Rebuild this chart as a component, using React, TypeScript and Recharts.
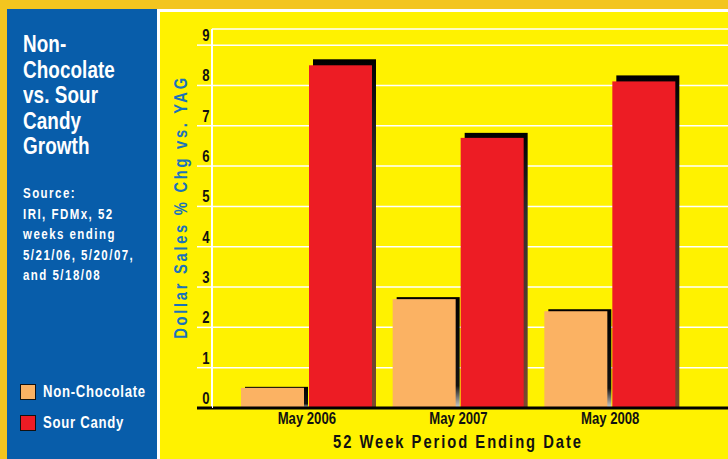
import React from "react";
import { BarChart, Bar, XAxis, YAxis, CartesianGrid, Legend, Label } from "recharts";

const categories = ["May 2006", "May 2007", "May 2008"];
const nonChocolate = [0.5, 2.7, 2.4];
const sourCandy = [8.5, 6.7, 8.1];
const yTicks = [0, 1, 2, 3, 4, 5, 6, 7, 8, 9];

const data = categories.map((name, i) => ({
  name,
  nonChocolate: nonChocolate[i],
  sourCandy: sourCandy[i],
}));

// no narrow font installed, so squeeze Liberation Sans horizontally
const FONT = '"Liberation Sans", Arial, sans-serif';
const SQ = 0.82;
const GOLD = "#F3C51F";
const BLUE = "#085DAA";
const YELLOW = "#FFF200";
const ORANGE = "#FBB263";
const RED = "#ED1C24";

const shadowStops: Record<string, [number, string][]> = {
  [ORANGE]: [
    [0, "#000"],
    [0.8, "#111"],
    [1, "#d4d4d4"],
  ],
  [RED]: [
    [0, "#000"],
    [0.3, "#2f2f2f"],
    [1, "#7b4a2e"],
  ],
};

function ShadowBar(props: any) {
  const { x, y, width, height, fill, index } = props;
  if (!height || height <= 0) return null;
  const off = Math.max(1, Math.round(height * 0.0175));
  const id = `sh-${fill.slice(1)}-${index}`;
  return (
    <g>
      <defs>
        <linearGradient id={id} x1="0" y1="0" x2="0" y2="1">
          {shadowStops[fill].map(([o, c]) => (
            <stop key={o} offset={o} stopColor={c} />
          ))}
        </linearGradient>
      </defs>
      <rect x={x + 4} y={y - off} width={width} height={height + off} fill={`url(#${id})`} />
      <rect x={x} y={y} width={width} height={height} fill={fill} />
    </g>
  );
}

function YTick(props: any) {
  const { x, y, payload } = props;
  const zero = payload.value === 0;
  return (
    <g>
      <line
        x1={x - 15}
        x2={x}
        y1={y}
        y2={y}
        stroke={zero ? "#000" : "#fff"}
        strokeWidth={zero ? 3 : 1.5}
      />
      <text
        transform={`translate(${x - 6} ${y - 4}) scale(${SQ} 1)`}
        textAnchor="middle"
        fontFamily={FONT}
        fontWeight="bold"
        fontSize={16}
        fill="#111"
      >
        {payload.value}
      </text>
    </g>
  );
}

function XTick(props: any) {
  const { x, y, payload } = props;
  return (
    <text
      transform={`translate(${x} ${y + 16}) scale(${SQ} 1)`}
      textAnchor="middle"
      fontFamily={FONT}
      fontWeight="bold"
      fontSize={16}
      fill="#111"
    >
      {payload.value}
    </text>
  );
}

function XTitle(props: any) {
  const { viewBox, value } = props;
  const cx = viewBox.x + viewBox.width / 2 - 12;
  return (
    <text
      transform={`translate(${cx} 448) scale(${SQ} 1)`}
      textAnchor="middle"
      fontFamily={FONT}
      fontWeight="bold"
      fontSize={18}
      letterSpacing={2.4}
      fill="#111"
    >
      {value}
    </text>
  );
}

function YTitle(props: any) {
  return (
    <text
      transform={`translate(187 207) rotate(-90) scale(${SQ} 1)`}
      textAnchor="middle"
      fontFamily={FONT}
      fontWeight="bold"
      fontSize={18}
      letterSpacing={3.3}
      fill="#1B73BA"
    >
      {props.value}
    </text>
  );
}

const squeeze: React.CSSProperties = {
  display: "inline-block",
  transform: `scaleX(${SQ})`,
  transformOrigin: "left top",
  whiteSpace: "nowrap",
};

function LegendBox(props: any) {
  const { payload } = props;
  return (
    <div style={{ fontFamily: FONT }}>
      {(payload || []).map((p: any) => (
        <div
          key={p.value}
          style={{ display: "flex", alignItems: "center", height: 31 }}
        >
          <span
            style={{
              width: 14,
              height: 14,
              background: p.color,
              border: "1.5px solid #111",
              marginRight: 7,
              flex: "none",
            }}
          />
          <span
            style={{
              ...squeeze,
              color: "#fff",
              fontWeight: "bold",
              fontSize: 16,
              letterSpacing: 0.9,
            }}
          >
            {p.value}
          </span>
        </div>
      ))}
    </div>
  );
}

export default function App() {
  return (
    <div
      style={{
        position: "absolute",
        left: 0,
        top: 0,
        width: 728,
        height: 459,
        background: GOLD,
        overflow: "hidden",
        fontFamily: FONT,
      }}
    >
      <div
        style={{
          position: "absolute",
          left: 7,
          top: 9,
          width: 150,
          height: 450,
          background: BLUE,
        }}
      />
      <div
        style={{
          position: "absolute",
          left: 157,
          top: 9,
          width: 571,
          height: 450,
          background: "#fff",
        }}
      />
      <div
        style={{
          position: "absolute",
          left: 160,
          top: 12,
          width: 568,
          height: 447,
          background: YELLOW,
        }}
      />
      <div
        style={{
          ...squeeze,
          position: "absolute",
          left: 23,
          top: 32,
          color: "#fff",
          fontWeight: "bold",
          fontSize: 23,
          lineHeight: "25.5px",
          letterSpacing: 0.1,
        }}
      >
        Non-
        <br />
        Chocolate
        <br />
        vs. Sour
        <br />
        Candy
        <br />
        Growth
      </div>
      <div
        style={{
          ...squeeze,
          position: "absolute",
          left: 23,
          top: 183,
          color: "#fff",
          fontWeight: "bold",
          fontSize: 14,
          lineHeight: "20.6px",
          letterSpacing: 1.8,
        }}
      >
        Source:
        <br />
        IRI, FDMx, 52
        <br />
        weeks ending
        <br />
        5/21/06, 5/20/07,
        <br />
        and 5/18/08
      </div>
      <div style={{ position: "absolute", left: 0, top: 0 }}>
        <BarChart
          width={728}
          height={459}
          data={data}
          margin={{ top: 29, right: 0, bottom: 21, left: 192 }}
          barSize={63}
          barGap={5}
        >
          <CartesianGrid vertical={false} stroke="#fff" strokeWidth={1.5} />
          <XAxis
            dataKey="name"
            height={30}
            padding={{ left: 19, right: 42 }}
            tickLine={false}
            tickSize={0}
            tickMargin={0}
            axisLine={{ stroke: "#000", strokeWidth: 3 }}
            tick={<XTick />}
          >
            <Label value="52 Week Period Ending Date" content={<XTitle />} />
          </XAxis>
          <YAxis
            width={20}
            domain={[0, 9.4]}
            ticks={yTicks}
            interval={0}
            tickLine={false}
            tickSize={0}
            tickMargin={0}
            axisLine={{ stroke: "#fff", strokeWidth: 2 }}
            tick={<YTick />}
          >
            <Label value="Dollar Sales % Chg vs. YAG" content={<YTitle />} />
          </YAxis>
          <Legend
            layout="vertical"
            align="center"
            verticalAlign="middle"
            wrapperStyle={{ left: 20, top: 376, width: "auto" }}
            content={<LegendBox />}
          />
          <Bar
            dataKey="nonChocolate"
            name="Non-Chocolate"
            fill={ORANGE}
            shape={<ShadowBar />}
            isAnimationActive={false}
          />
          <Bar
            dataKey="sourCandy"
            name="Sour Candy"
            fill={RED}
            shape={<ShadowBar />}
            isAnimationActive={false}
          />
        </BarChart>
      </div>
    </div>
  );
}
